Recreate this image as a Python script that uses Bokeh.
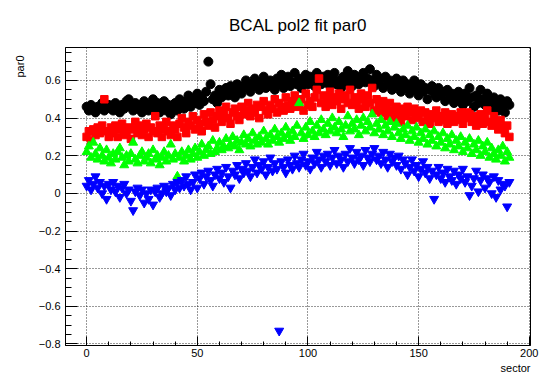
from bokeh.plotting import figure
from bokeh.models import FixedTicker, Title
from bokeh.embed import file_html
from bokeh.resources import INLINE

sectors = list(range(192))

black = [0.46, 0.44, 0.47, 0.45, 0.43, 0.46, 0.45, 0.48, 0.44, 0.46, 0.47, 0.45,
         0.44, 0.48, 0.46, 0.43, 0.47, 0.45, 0.49, 0.50, 0.46, 0.44, 0.48, 0.45,
         0.47, 0.43, 0.49, 0.46, 0.44, 0.47, 0.50, 0.45, 0.48, 0.43, 0.46, 0.49,
         0.44, 0.47, 0.42, 0.46, 0.48, 0.44, 0.50, 0.47, 0.45, 0.49, 0.52, 0.46,
         0.50, 0.48, 0.53, 0.47, 0.51, 0.49, 0.54, 0.70, 0.58, 0.50, 0.52, 0.48,
         0.55, 0.51, 0.53, 0.56, 0.52, 0.57, 0.54, 0.51, 0.58, 0.55, 0.53, 0.57,
         0.60, 0.56, 0.54, 0.58, 0.61, 0.57, 0.55, 0.59, 0.62, 0.56, 0.58, 0.60,
         0.57, 0.55, 0.61, 0.58, 0.63, 0.56, 0.60, 0.62, 0.57, 0.59, 0.64, 0.58,
         0.61, 0.56, 0.60, 0.63, 0.58, 0.62, 0.59, 0.57, 0.64, 0.60, 0.58, 0.62,
         0.59, 0.63, 0.57, 0.61, 0.64, 0.58, 0.60, 0.56, 0.62, 0.59, 0.65, 0.61,
         0.57, 0.63, 0.60, 0.58, 0.62, 0.64, 0.59, 0.61, 0.66, 0.60, 0.57, 0.63,
         0.59, 0.61, 0.56, 0.62, 0.58, 0.60, 0.55, 0.59, 0.61, 0.57, 0.54, 0.60,
         0.56, 0.58, 0.53, 0.57, 0.60, 0.55, 0.52, 0.58, 0.54, 0.56, 0.50, 0.55,
         0.57, 0.53, 0.51, 0.56, 0.52, 0.54, 0.49, 0.55, 0.51, 0.53, 0.48, 0.52,
         0.54, 0.50, 0.47, 0.53, 0.49, 0.56, 0.51, 0.46, 0.52, 0.48, 0.55, 0.50,
         0.47, 0.53, 0.49, 0.45, 0.51, 0.48, 0.44, 0.50, 0.46, 0.43, 0.49, 0.47]

red = [0.30, 0.33, 0.28, 0.34, 0.31, 0.35, 0.32, 0.36, 0.50, 0.33, 0.30, 0.35,
       0.32, 0.36, 0.30, 0.34, 0.37, 0.31, 0.33, 0.35, 0.29, 0.34, 0.38, 0.32,
       0.36, 0.31, 0.34, 0.37, 0.30, 0.35, 0.33, 0.41, 0.32, 0.36, 0.30, 0.34,
       0.38, 0.33, 0.31, 0.36, 0.34, 0.30, 0.37, 0.40, 0.35, 0.32, 0.38, 0.36,
       0.41, 0.34, 0.39, 0.37, 0.33, 0.42, 0.38, 0.36, 0.43, 0.39, 0.35, 0.41,
       0.44, 0.38, 0.42, 0.46, 0.40, 0.37, 0.43, 0.45, 0.41, 0.39, 0.46, 0.42,
       0.44, 0.48, 0.41, 0.45, 0.43, 0.47, 0.40, 0.46, 0.49, 0.44, 0.42, 0.47,
       0.45, 0.50, 0.43, 0.48, 0.46, 0.44, 0.51, 0.47, 0.45, 0.49, 0.52, 0.46,
       0.48, 0.50, 0.44, 0.53, 0.47, 0.49, 0.46, 0.51, 0.55, 0.61, 0.48, 0.52,
       0.46, 0.50, 0.54, 0.47, 0.51, 0.49, 0.53, 0.45, 0.50, 0.52, 0.48, 0.55,
       0.47, 0.51, 0.49, 0.45, 0.53, 0.50, 0.46, 0.52, 0.48, 0.56, 0.44, 0.50,
       0.47, 0.43, 0.49, 0.45, 0.41, 0.48, 0.44, 0.40, 0.46, 0.42, 0.38, 0.45,
       0.41, 0.46, 0.43, 0.39, 0.45, 0.42, 0.40, 0.44, 0.38, 0.43, 0.41, 0.37,
       0.42, 0.40, 0.44, 0.38, 0.41, 0.39, 0.43, 0.37, 0.40, 0.42, 0.38, 0.41,
       0.39, 0.43, 0.37, 0.40, 0.43, 0.42, 0.38, 0.41, 0.36, 0.39, 0.42, 0.37,
       0.40, 0.44, 0.38, 0.36, 0.41, 0.37, 0.34, 0.39, 0.35, 0.32, 0.36, 0.30]

green = [0.22, 0.25, 0.19, 0.27, 0.21, 0.18, 0.24, 0.20, 0.17, 0.23, 0.19, 0.16,
         0.21, 0.18, 0.22, 0.24, 0.19, 0.15, 0.20, 0.17, 0.21, 0.27, 0.18, 0.16,
         0.20, 0.22, 0.17, 0.19, 0.21, 0.16, 0.23, 0.18, 0.20, 0.15, 0.19, 0.22,
         0.17, 0.20, 0.26, 0.18, 0.21, 0.09, 0.19, 0.22, 0.17, 0.20, 0.23, 0.18,
         0.21, 0.24, 0.19, 0.22, 0.26, 0.20, 0.23, 0.25, 0.21, 0.28, 0.22, 0.24,
         0.27, 0.23, 0.25, 0.29, 0.24, 0.26, 0.30, 0.25, 0.28, 0.23, 0.27, 0.31,
         0.26, 0.29, 0.25, 0.32, 0.28, 0.26, 0.30, 0.27, 0.33, 0.29, 0.26, 0.31,
         0.28, 0.34, 0.30, 0.27, 0.32, 0.29, 0.35, 0.31, 0.28, 0.33, 0.30, 0.36,
         0.48, 0.32, 0.29, 0.35, 0.31, 0.38, 0.33, 0.30, 0.36, 0.32, 0.39, 0.34,
         0.31, 0.37, 0.33, 0.40, 0.35, 0.32, 0.38, 0.34, 0.30, 0.36, 0.41, 0.33,
         0.37, 0.34, 0.39, 0.31, 0.36, 0.40, 0.33, 0.38, 0.35, 0.42, 0.32, 0.37,
         0.34, 0.39, 0.31, 0.36, 0.33, 0.38, 0.30, 0.35, 0.37, 0.32, 0.29, 0.34,
         0.31, 0.36, 0.28, 0.33, 0.30, 0.35, 0.27, 0.32, 0.29, 0.34, 0.26, 0.31,
         0.28, 0.33, 0.25, 0.30, 0.27, 0.32, 0.24, 0.29, 0.26, 0.31, 0.23, 0.28,
         0.25, 0.30, 0.22, 0.27, 0.24, 0.29, 0.21, 0.26, 0.23, 0.28, 0.20, 0.25,
         0.22, 0.27, 0.19, 0.24, 0.21, 0.18, 0.23, 0.20, 0.25, 0.17, 0.22, 0.19]

blue = [0.04, 0.07, 0.02, 0.05, 0.09, 0.03, 0.06, 0.00, 0.04, -0.03, 0.05, 0.02,
        0.06, 0.01, 0.04, -0.02, 0.03, 0.05, 0.00, 0.02, -0.04, -0.09, 0.01, 0.03,
        -0.01, 0.02, -0.05, 0.00, -0.03, 0.02, -0.06, 0.01, 0.03, -0.02, 0.00, 0.04,
        0.01, 0.03, -0.01, 0.05, 0.02, 0.06, 0.03, 0.07, 0.04, 0.09, 0.05, 0.02,
        0.06, 0.10, 0.03, 0.08, 0.11, 0.05, 0.09, 0.12, 0.07, 0.04, 0.10, 0.13,
        0.08, 0.11, 0.06, 0.14, 0.09, 0.03, 0.12, 0.10, 0.15, 0.08, 0.13, 0.11,
        0.16, 0.12, 0.09, 0.14, 0.18, 0.11, 0.15, 0.13, 0.17, 0.10, 0.14, 0.19,
        0.12, 0.16, 0.13, -0.73, 0.17, 0.14, 0.11, 0.18, 0.15, 0.13, 0.20, 0.16,
        0.14, 0.18, 0.21, 0.15, 0.17, 0.13, 0.19, 0.16, 0.22, 0.18, 0.14, 0.20,
        0.17, 0.21, 0.15, 0.19, 0.23, 0.16, 0.20, 0.18, 0.14, 0.21, 0.17, 0.24,
        0.19, 0.16, 0.22, 0.18, 0.20, 0.15, 0.23, 0.19, 0.17, 0.21, 0.24, 0.18,
        0.20, 0.16, 0.22, 0.18, 0.14, 0.21, 0.17, 0.19, 0.15, 0.20, 0.13, 0.18,
        0.16, 0.10, 0.14, 0.18, 0.12, 0.15, 0.09, 0.13, 0.17, 0.11, 0.14, 0.08,
        0.12, -0.03, 0.10, 0.14, 0.08, 0.11, 0.06, 0.13, 0.09, 0.07, 0.12, 0.05,
        0.10, 0.08, 0.13, 0.06, 0.09, -0.01, 0.04, 0.08, 0.12, 0.01, 0.07, 0.10,
        0.03, 0.08, 0.06, 0.00, 0.09, -0.02, 0.07, 0.02, 0.05, 0.04, -0.07, 0.06]

x_ticks = [0, 50, 100, 150, 200]
x_labels = ["0", "50", "100", "150", "200"]
y_ticks = [-0.8, -0.6, -0.4, -0.2, 0.0, 0.2, 0.4, 0.6]
y_labels = ["\u22120.8", "\u22120.6", "\u22120.4", "\u22120.2", "0", "0.2", "0.4", "0.6"]

FONT = "Liberation Sans"

p = figure(width=539, height=373, x_range=(-9.55, 200.55), y_range=(-0.808, 0.775),
           output_backend="svg", toolbar_location=None,
           min_border_left=65, min_border_right=9, min_border_top=47, min_border_bottom=26)
p.background_fill_color = "white"
p.border_fill_color = "white"
p.outline_line_color = "black"
p.outline_line_width = 1

p.title.text = "BCAL pol2 fit par0"
p.title.align = "center"
p.title.text_font = FONT
p.title.text_font_size = "17px"
p.title.text_font_style = "normal"
p.title.text_color = "black"
p.title.offset = -5
p.title.standoff = 26

p.scatter(sectors, black, marker="circle", size=9, color="black")
p.scatter(sectors, red, marker="square", size=7.5, color="#ff0000")
p.scatter(sectors, green, marker="triangle", size=9, color="#00ff00")
p.scatter(sectors, blue, marker="inverted_triangle", size=9, color="#0000ff")

p.xaxis.ticker = FixedTicker(ticks=x_ticks, minor_ticks=list(range(0, 201, 10)))
p.xaxis.major_label_overrides = {t: l for t, l in zip(x_ticks, x_labels)}
p.yaxis.ticker = FixedTicker(ticks=y_ticks, minor_ticks=[round(-0.8 + 0.05 * i, 2) for i in range(32)])
p.yaxis.major_label_overrides = {t: l for t, l in zip(y_ticks, y_labels)}

for ax in (p.xaxis[0], p.yaxis[0]):
    ax.axis_line_color = "black"
    ax.major_tick_line_color = "black"
    ax.minor_tick_line_color = "black"
    ax.major_tick_out = 0
    ax.minor_tick_out = 0
    ax.major_label_text_font = FONT
    ax.major_label_text_font_size = "11px"
    ax.major_label_text_color = "black"
p.xaxis.major_label_standoff = 3
p.yaxis.major_label_standoff = 5
p.xaxis.major_tick_in = 9
p.xaxis.minor_tick_in = 4
p.yaxis.major_tick_in = 12
p.yaxis.minor_tick_in = 6

for g in (p.xgrid[0], p.ygrid[0]):
    g.grid_line_color = "black"
    g.grid_line_alpha = 0.8
    g.grid_line_dash = "1 2"
    g.grid_line_width = 1
p.xgrid.ticker = FixedTicker(ticks=x_ticks)
p.ygrid.ticker = FixedTicker(ticks=y_ticks)

p.add_layout(Title(text="sector", align="right", text_font=FONT, text_font_size="11px",
                   text_font_style="normal", text_color="black", standoff=0), "below")
p.add_layout(Title(text="par0", align="right", text_font=FONT, text_font_size="11px",
                   text_font_style="normal", text_color="black", standoff=20, offset=8), "left")

open("out.html", "w").write(file_html(p, INLINE))
